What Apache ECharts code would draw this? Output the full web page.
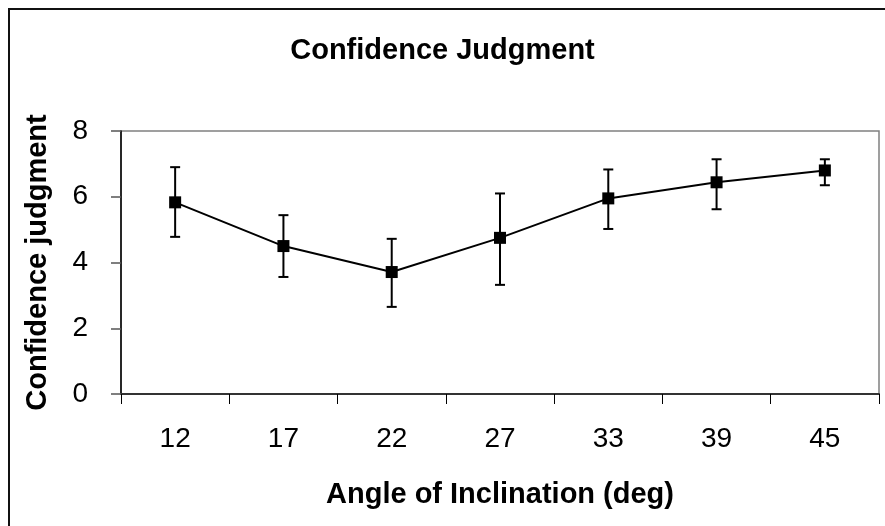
<!DOCTYPE html>
<html>
<head>
<meta charset="utf-8">
<script src="https://cdn.jsdelivr.net/npm/echarts@6/dist/echarts.min.js"></script>
<style>
html,body{margin:0;padding:0;background:#fff;}
#chart{width:885px;height:526px;}
</style>
</head>
<body>
<div id="chart"></div>
<script>
var categories = ['12', '17', '22', '27', '33', '39', '45'];
var meanValues = [5.83, 4.50, 3.71, 4.75, 5.95, 6.44, 6.80];
var upperValues = [6.90, 5.44, 4.72, 6.10, 6.83, 7.14, 7.14];
var lowerValues = [4.78, 3.56, 2.65, 3.32, 5.02, 5.62, 6.35];
var yTicks = [0, 2, 4, 6, 8];

var FONT = '"Liberation Sans", Arial, sans-serif';
var errorData = categories.map(function (c, i) { return [i, lowerValues[i], upperValues[i]]; });

var chart = echarts.init(document.getElementById('chart'), null, {renderer: 'canvas'});
chart.setOption({
  animation: false,
  backgroundColor: '#fff',
  title: {
    text: 'Confidence Judgment',
    left: 'center',
    top: 36,
    padding: 0,
    textStyle: {fontFamily: FONT, fontSize: 29, fontWeight: 'bold', color: '#000', lineHeight: 29}
  },
  graphic: [{
    type: 'rect',
    shape: {x: 9, y: 9, width: 900, height: 600},
    style: {fill: 'none', stroke: '#111', lineWidth: 2},
    silent: true,
    z: 100
  }],
  grid: {
    left: 121, right: 6, top: 131, bottom: 132,
    show: true, borderColor: '#808080', borderWidth: 1.5, backgroundColor: '#fff'
  },
  xAxis: {
    type: 'category',
    data: categories,
    boundaryGap: true,
    name: 'Angle of Inclination (deg)',
    nameLocation: 'middle',
    nameGap: 86,
    nameTextStyle: {fontFamily: FONT, fontSize: 29, fontWeight: 'bold', color: '#000'},
    axisLine: {lineStyle: {color: '#333', width: 2}},
    axisTick: {show: true, interval: 0, inside: false, length: 10, lineStyle: {color: '#000', width: 1}},
    axisLabel: {fontFamily: FONT, fontSize: 28, color: '#000', margin: 31, interval: 0},
    splitLine: {show: false}
  },
  yAxis: {
    type: 'value',
    min: yTicks[0],
    max: yTicks[yTicks.length - 1],
    interval: yTicks[1] - yTicks[0],
    name: 'Confidence judgment',
    nameLocation: 'middle',
    nameRotate: 90,
    nameGap: 69,
    nameTextStyle: {fontFamily: FONT, fontSize: 29, fontWeight: 'bold', color: '#000'},
    axisLine: {show: true, lineStyle: {color: '#000', width: 1.5}},
    axisTick: {show: true, inside: false, length: 10, lineStyle: {color: '#555', width: 1.5}},
    axisLabel: {fontFamily: FONT, fontSize: 28, color: '#000', margin: 33},
    splitLine: {show: false}
  },
  series: [{
    type: 'custom',
    name: 'error',
    data: errorData,
    z: 2,
    renderItem: function (params, api) {
      var x = api.value(0);
      var lo = api.coord([x, api.value(1)]);
      var hi = api.coord([x, api.value(2)]);
      var hw = 5;
      var st = {stroke: '#000', lineWidth: 2, fill: 'none'};
      return {
        type: 'group',
        children: [
          {type: 'line', shape: {x1: lo[0], y1: lo[1], x2: hi[0], y2: hi[1]}, style: st},
          {type: 'line', shape: {x1: hi[0] - hw, y1: hi[1], x2: hi[0] + hw, y2: hi[1]}, style: st},
          {type: 'line', shape: {x1: lo[0] - hw, y1: lo[1], x2: lo[0] + hw, y2: lo[1]}, style: st}
        ]
      };
    },
    encode: {x: 0, y: [1, 2]}
  }, {
    type: 'line',
    name: 'mean',
    data: meanValues,
    z: 3,
    symbol: 'rect',
    symbolSize: 12,
    itemStyle: {color: '#000'},
    lineStyle: {color: '#000', width: 2}
  }]
});
</script>
</body>
</html>
